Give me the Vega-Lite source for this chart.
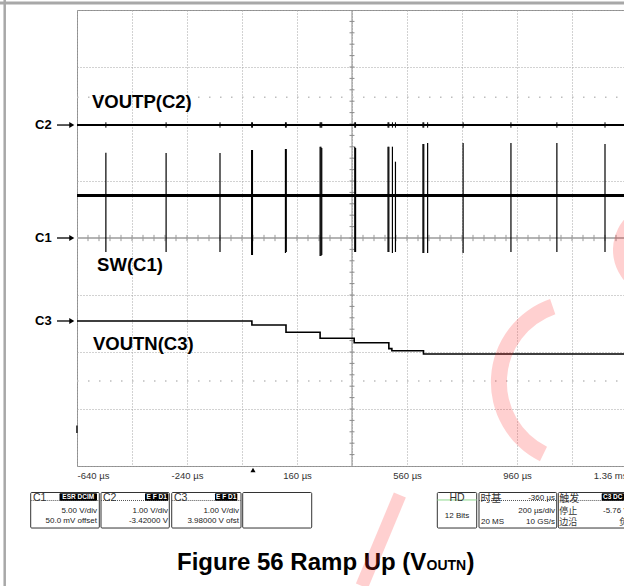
{
  "$schema": "https://vega.github.io/schema/vega-lite/v6.json",
  "width": 550,
  "height": 456,
  "autosize": {"type": "none"},
  "padding": {"left": 77, "top": 10, "right": 0, "bottom": 120},
  "background": "white",
  "config": {
    "view": {"stroke": "#8f8f8f", "strokeWidth": 1},
    "font": "Liberation Sans",
    "axis": {"titleOpacity": 0}
  },
  "data": {"values": [{}]},
  "datasets": {
    "c1": [{"t": -640, "v": 0.746}, {"t": 1360, "v": 0.746}],
    "c2": [{"t": -640, "v": 1.982}, {"t": 1360, "v": 1.982}],
    "c3": [
      {"t": -640, "v": -1.456}, {"t": -4, "v": -1.526}, {"t": 120, "v": -1.654},
      {"t": 244, "v": -1.76}, {"t": 368, "v": -1.837}, {"t": 494, "v": -1.94},
      {"t": 505, "v": -1.977}, {"t": 620, "v": -2.035}, {"t": 1360, "v": -2.03}
    ],
    "sw": [
      {"t": -535, "top": 1.496, "bot": -0.246},
      {"t": -316, "top": 1.49, "bot": -0.246},
      {"t": -120, "top": 1.49, "bot": -0.246},
      {"t": -5, "top": 1.544, "bot": -0.298},
      {"t": -2, "top": 1.544, "bot": -0.298},
      {"t": 118, "top": 1.561, "bot": -0.263},
      {"t": 121, "top": 1.561, "bot": -0.246},
      {"t": 244, "top": 1.602, "bot": -0.316},
      {"t": 247, "top": 1.602, "bot": -0.316},
      {"t": 250, "top": 1.58, "bot": -0.298},
      {"t": 370, "top": 1.602, "bot": -0.246},
      {"t": 373, "top": 1.58, "bot": -0.246},
      {"t": 491, "top": 1.602, "bot": -0.246},
      {"t": 494, "top": 1.602, "bot": -0.246},
      {"t": 507, "top": 1.602, "bot": -0.263},
      {"t": 518, "top": 1.339, "bot": -0.246},
      {"t": 618, "top": 1.649, "bot": -0.263},
      {"t": 621, "top": 1.649, "bot": -0.263},
      {"t": 635, "top": 1.667, "bot": -0.263},
      {"t": 764, "top": 1.667, "bot": -0.263},
      {"t": 938, "top": 1.667, "bot": -0.246},
      {"t": 1105, "top": 1.667, "bot": -0.246},
      {"t": 1280, "top": 1.649, "bot": -0.246}
    ],
    "markers": [{"ch": "C2", "v": 1.982}, {"ch": "C1", "v": 0}, {"ch": "C3", "v": -1.456}],
    "dots": [{"v": 2.47}, {"v": -2.51}],
    "hticks": [
      {"t": -600}, {"t": -560}, {"t": -520}, {"t": -480}, {"t": -440}, {"t": -400}, {"t": -360}, {"t": -320},
      {"t": -280}, {"t": -240}, {"t": -200}, {"t": -160}, {"t": -120}, {"t": -80}, {"t": -40}, {"t": 0},
      {"t": 40}, {"t": 80}, {"t": 120}, {"t": 160}, {"t": 200}, {"t": 240}, {"t": 280}, {"t": 320},
      {"t": 360}, {"t": 400}, {"t": 440}, {"t": 480}, {"t": 520}, {"t": 560}, {"t": 600}, {"t": 640},
      {"t": 680}, {"t": 720}, {"t": 760}, {"t": 800}, {"t": 840}, {"t": 880}, {"t": 920}, {"t": 960},
      {"t": 1000}, {"t": 1040}, {"t": 1080}, {"t": 1120}, {"t": 1160}, {"t": 1200}, {"t": 1240}, {"t": 1280}, {"t": 1320}
    ],
    "vticks": [
      {"v": -3.8}, {"v": -3.6}, {"v": -3.4}, {"v": -3.2}, {"v": -3}, {"v": -2.8}, {"v": -2.6}, {"v": -2.4},
      {"v": -2.2}, {"v": -2}, {"v": -1.8}, {"v": -1.6}, {"v": -1.4}, {"v": -1.2}, {"v": -1}, {"v": -0.8},
      {"v": -0.6}, {"v": -0.4}, {"v": -0.2}, {"v": 0}, {"v": 0.2}, {"v": 0.4}, {"v": 0.6}, {"v": 0.8},
      {"v": 1}, {"v": 1.2}, {"v": 1.4}, {"v": 1.6}, {"v": 1.8}, {"v": 2}, {"v": 2.2}, {"v": 2.4},
      {"v": 2.6}, {"v": 2.8}, {"v": 3}, {"v": 3.2}, {"v": 3.4}, {"v": 3.6}, {"v": 3.8}
    ]
  },
  "layer": [
    {
      "mark": {"type": "rule", "color": "#8a8a8a", "strokeWidth": 1},
      "encoding": {
        "x": {
          "datum": 360, "type": "quantitative",
          "scale": {"domain": [-640, 1360], "nice": false, "zero": false},
          "axis": {
            "values": [-640, -440, -240, -40, 160, 360, 560, 760, 960, 1160, 1360],
            "grid": true, "gridDash": [1, 2], "gridColor": "#a4a4a4", "gridWidth": 1,
            "domain": false, "ticks": false, "labelFlush": true, "labelOverlap": false,
            "labelExpr": "datum.value == 1360 ? '1.36 ms' : ((datum.value + 640) % 400 == 0 ? datum.value + ' µs' : '')",
            "labelFontSize": 9.5, "labelColor": "#333333", "labelPadding": 4, "labelFont": "Liberation Sans",
            "title": null
          }
        }
      }
    },
    {
      "mark": {"type": "rule", "color": "#b4b4b4", "strokeWidth": 2},
      "encoding": {
        "y": {
          "datum": 0, "type": "quantitative",
          "scale": {"domain": [-4, 4], "nice": false, "zero": false},
          "axis": {
            "values": [-4, -3, -2, -1, 0, 1, 2, 3, 4],
            "grid": true, "gridDash": [1, 2], "gridColor": "#a4a4a4", "gridWidth": 1,
            "domain": false, "ticks": false, "labels": false, "title": null
          }
        }
      }
    },
    {
      "data": {"name": "vticks"},
      "mark": {"type": "rule", "color": "#8a8a8a", "strokeWidth": 1},
      "encoding": {
        "y": {"field": "v", "type": "quantitative"},
        "x": {"datum": 351},
        "x2": {"datum": 369}
      }
    },
    {
      "data": {"name": "hticks"},
      "mark": {"type": "rule", "color": "#999999", "strokeWidth": 1},
      "encoding": {
        "x": {"field": "t", "type": "quantitative"},
        "y": {"datum": 0.055},
        "y2": {"datum": -0.055}
      }
    },
    {
      "data": {"name": "dots"},
      "mark": {"type": "rule", "color": "#bdbdbd", "strokeWidth": 1.5, "strokeDash": [1.5, 9.5]},
      "encoding": {
        "y": {"field": "v", "type": "quantitative"},
        "x": {"datum": -640},
        "x2": {"datum": 1360}
      }
    },
    {
      "data": {"name": "c2"},
      "mark": {"type": "line", "color": "#000000", "strokeWidth": 2},
      "encoding": {"x": {"field": "t", "type": "quantitative"}, "y": {"field": "v", "type": "quantitative"}}
    },
    {
      "data": {"name": "sw"},
      "mark": {"type": "rule", "color": "#000000", "strokeWidth": 1},
      "encoding": {"x": {"field": "t", "type": "quantitative"}, "y": {"datum": 2.03}, "y2": {"datum": 1.935}}
    },
    {
      "data": {"name": "c1"},
      "mark": {"type": "line", "color": "#000000", "strokeWidth": 3},
      "encoding": {"x": {"field": "t", "type": "quantitative"}, "y": {"field": "v", "type": "quantitative"}}
    },
    {
      "data": {"name": "sw"},
      "mark": {"type": "rule", "color": "#000000", "strokeWidth": 1.2},
      "encoding": {
        "x": {"field": "t", "type": "quantitative"},
        "y": {"field": "top", "type": "quantitative"},
        "y2": {"field": "bot"}
      }
    },
    {
      "data": {"name": "c3"},
      "mark": {"type": "line", "color": "#000000", "strokeWidth": 1.6, "interpolate": "step-after"},
      "encoding": {"x": {"field": "t", "type": "quantitative"}, "y": {"field": "v", "type": "quantitative"}}
    },
    {
      "mark": {"type": "text", "text": "VOUTP(C2)", "font": "Liberation Sans", "fontWeight": "bold", "fontSize": 18.5, "align": "left", "baseline": "alphabetic", "color": "#000000"},
      "encoding": {"x": {"datum": -585.5}, "y": {"datum": 2.28}}
    },
    {
      "mark": {"type": "text", "text": "SW(C1)", "font": "Liberation Sans", "fontWeight": "bold", "fontSize": 18.5, "align": "left", "baseline": "alphabetic", "color": "#000000"},
      "encoding": {"x": {"datum": -567}, "y": {"datum": -0.58}}
    },
    {
      "mark": {"type": "text", "text": "VOUTN(C3)", "font": "Liberation Sans", "fontWeight": "bold", "fontSize": 18.5, "align": "left", "baseline": "alphabetic", "color": "#000000"},
      "encoding": {"x": {"datum": -582}, "y": {"datum": -1.965}}
    },
    {
      "data": {"name": "markers"},
      "mark": {"type": "text", "font": "Liberation Sans", "fontWeight": "bold", "fontSize": 13, "align": "left", "baseline": "middle", "color": "#000000"},
      "encoding": {"x": {"datum": -792.7}, "y": {"field": "v", "type": "quantitative"}, "text": {"field": "ch"}}
    },
    {
      "data": {"name": "markers"},
      "mark": {"type": "rule", "color": "#000000", "strokeWidth": 1.3},
      "encoding": {"x": {"datum": -712.7}, "x2": {"datum": -664}, "y": {"field": "v", "type": "quantitative"}}
    },
    {
      "data": {"name": "markers"},
      "mark": {"type": "point", "shape": "triangle-right", "filled": true, "color": "#000000", "size": 34, "opacity": 1},
      "encoding": {"x": {"datum": -659}, "y": {"field": "v", "type": "quantitative"}}
    },
    {
      "mark": {"type": "point", "shape": "triangle-up", "filled": true, "color": "#000000", "size": 26, "opacity": 1},
      "encoding": {"x": {"datum": 0}, "y": {"datum": -4.07}}
    },
    {
      "mark": {"type": "rule", "color": "#444444", "strokeWidth": 2},
      "encoding": {"x": {"datum": -640}, "y": {"datum": -3.29}, "y2": {"datum": -3.42}}
    },
    {
      "mark": {"type": "rule", "color": "#a8a8a8", "strokeWidth": 3},
      "encoding": {"x": {"datum": -930}, "x2": {"datum": 1400}, "y": {"datum": 4.123}}
    },
    {
      "mark": {"type": "rule", "color": "#a8a8a8", "strokeWidth": 2.5},
      "encoding": {"x": {"datum": -902.9}, "y": {"datum": 4.2}, "y2": {"datum": -6.2}}
    },
    {
      "mark": {"type": "rect", "fill": "white", "fillOpacity": 0, "stroke": "#333333", "strokeWidth": 1, "cornerRadius": 1},
      "encoding": {"x": {"datum": -808.4}, "x2": {"datum": -558.9}, "y": {"datum": -4.465}, "y2": {"datum": -5.088}}
    },
    {
      "mark": {"type": "rect", "fill": "white", "fillOpacity": 0, "stroke": "#333333", "strokeWidth": 1, "cornerRadius": 1},
      "encoding": {"x": {"datum": -552.7}, "x2": {"datum": -304.4}, "y": {"datum": -4.465}, "y2": {"datum": -5.088}}
    },
    {
      "mark": {"type": "rect", "fill": "white", "fillOpacity": 0, "stroke": "#333333", "strokeWidth": 1, "cornerRadius": 1},
      "encoding": {"x": {"datum": -295.6}, "x2": {"datum": -43.6}, "y": {"datum": -4.465}, "y2": {"datum": -5.088}}
    },
    {
      "mark": {"type": "rect", "fill": "white", "fillOpacity": 0, "stroke": "#333333", "strokeWidth": 1, "cornerRadius": 1},
      "encoding": {"x": {"datum": -37.5}, "x2": {"datum": 213.5}, "y": {"datum": -4.465}, "y2": {"datum": -5.088}}
    },
    {
      "mark": {"type": "rect", "fill": "white", "fillOpacity": 0, "stroke": "#333333", "strokeWidth": 1, "cornerRadius": 1},
      "encoding": {"x": {"datum": 670.2}, "x2": {"datum": 813.5}, "y": {"datum": -4.465}, "y2": {"datum": -5.088}}
    },
    {
      "mark": {"type": "rect", "fill": "white", "fillOpacity": 0, "stroke": "#333333", "strokeWidth": 1, "cornerRadius": 1},
      "encoding": {"x": {"datum": 821.8}, "x2": {"datum": 1104.4}, "y": {"datum": -4.465}, "y2": {"datum": -5.088}}
    },
    {
      "mark": {"type": "rect", "fill": "white", "fillOpacity": 0, "stroke": "#333333", "strokeWidth": 1, "cornerRadius": 1},
      "encoding": {"x": {"datum": 1110.2}, "x2": {"datum": 1420}, "y": {"datum": -4.465}, "y2": {"datum": -5.088}}
    },
    {
      "mark": {"type": "rule", "color": "#555555", "strokeWidth": 1, "strokeDash": [1, 1]},
      "encoding": {"x": {"datum": -808.4}, "x2": {"datum": -558.9}, "y": {"datum": -4.605}}
    },
    {
      "mark": {"type": "rule", "color": "#555555", "strokeWidth": 1, "strokeDash": [1, 1]},
      "encoding": {"x": {"datum": -552.7}, "x2": {"datum": -304.4}, "y": {"datum": -4.605}}
    },
    {
      "mark": {"type": "rule", "color": "#555555", "strokeWidth": 1, "strokeDash": [1, 1]},
      "encoding": {"x": {"datum": -295.6}, "x2": {"datum": -43.6}, "y": {"datum": -4.605}}
    },
    {
      "mark": {"type": "rule", "color": "#555555", "strokeWidth": 1, "strokeDash": [1, 1]},
      "encoding": {"x": {"datum": 821.8}, "x2": {"datum": 1104.4}, "y": {"datum": -4.605}}
    },
    {
      "mark": {"type": "rule", "color": "#555555", "strokeWidth": 1, "strokeDash": [1, 1]},
      "encoding": {"x": {"datum": 1110.2}, "x2": {"datum": 1420}, "y": {"datum": -4.605}}
    },
    {
      "mark": {"type": "rule", "color": "#8fd88f", "strokeWidth": 1},
      "encoding": {"x": {"datum": 670.2}, "x2": {"datum": 813.5}, "y": {"datum": -4.596}}
    },
    {
      "mark": {"type": "rect", "fill": "#000000", "cornerRadius": 1},
      "encoding": {"x": {"datum": -703.6}, "x2": {"datum": -567.3}, "y": {"datum": -4.479}, "y2": {"datum": -4.609}}
    },
    {
      "mark": {"type": "rect", "fill": "#000000", "cornerRadius": 1},
      "encoding": {"x": {"datum": -392.7}, "x2": {"datum": -308}, "y": {"datum": -4.479}, "y2": {"datum": -4.609}}
    },
    {
      "mark": {"type": "rect", "fill": "#000000", "cornerRadius": 1},
      "encoding": {"x": {"datum": -138.2}, "x2": {"datum": -57.1}, "y": {"datum": -4.479}, "y2": {"datum": -4.609}}
    },
    {
      "mark": {"type": "rect", "fill": "#000000", "cornerRadius": 1},
      "encoding": {"x": {"datum": 1268}, "x2": {"datum": 1349}, "y": {"datum": -4.479}, "y2": {"datum": -4.609}}
    },
    {
      "mark": {"type": "text", "text": "ESR DCIM", "fontSize": 6.5, "fontWeight": "bold", "color": "white", "align": "center", "baseline": "middle"},
      "encoding": {"x": {"datum": -635.5}, "y": {"datum": -4.544}}
    },
    {
      "mark": {"type": "text", "text": "E F D1", "fontSize": 6.5, "fontWeight": "bold", "color": "white", "align": "center", "baseline": "middle"},
      "encoding": {"x": {"datum": -350.4}, "y": {"datum": -4.544}}
    },
    {
      "mark": {"type": "text", "text": "E F D1", "fontSize": 6.5, "fontWeight": "bold", "color": "white", "align": "center", "baseline": "middle"},
      "encoding": {"x": {"datum": -97.6}, "y": {"datum": -4.544}}
    },
    {
      "mark": {"type": "text", "text": "C3 DC", "fontSize": 6.5, "fontWeight": "bold", "color": "white", "align": "left", "baseline": "middle"},
      "encoding": {"x": {"datum": 1272.7}, "y": {"datum": -4.544}}
    },
    {
      "mark": {"type": "text", "text": "C1", "fontSize": 10.5, "color": "#333333", "align": "left", "baseline": "alphabetic"},
      "encoding": {"x": {"datum": -800}, "y": {"datum": -4.614}}
    },
    {
      "mark": {"type": "text", "text": "C2", "fontSize": 10.5, "color": "#333333", "align": "left", "baseline": "alphabetic"},
      "encoding": {"x": {"datum": -545.5}, "y": {"datum": -4.614}}
    },
    {
      "mark": {"type": "text", "text": "C3", "fontSize": 10.5, "color": "#333333", "align": "left", "baseline": "alphabetic"},
      "encoding": {"x": {"datum": -287.3}, "y": {"datum": -4.614}}
    },
    {
      "mark": {"type": "text", "text": "5.00 V/div", "fontSize": 8, "color": "#222222", "align": "right", "baseline": "alphabetic"},
      "encoding": {"x": {"datum": -567.3}, "y": {"datum": -4.825}}
    },
    {
      "mark": {"type": "text", "text": "50.0 mV offset", "fontSize": 8, "color": "#222222", "align": "right", "baseline": "alphabetic"},
      "encoding": {"x": {"datum": -567.3}, "y": {"datum": -5.0}}
    },
    {
      "mark": {"type": "text", "text": "1.00 V/div", "fontSize": 8, "color": "#222222", "align": "right", "baseline": "alphabetic"},
      "encoding": {"x": {"datum": -309}, "y": {"datum": -4.825}}
    },
    {
      "mark": {"type": "text", "text": "-3.42000 V", "fontSize": 8, "color": "#222222", "align": "right", "baseline": "alphabetic"},
      "encoding": {"x": {"datum": -309}, "y": {"datum": -5.0}}
    },
    {
      "mark": {"type": "text", "text": "1.00 V/div", "fontSize": 8, "color": "#222222", "align": "right", "baseline": "alphabetic"},
      "encoding": {"x": {"datum": -50.9}, "y": {"datum": -4.825}}
    },
    {
      "mark": {"type": "text", "text": "3.98000 V ofst", "fontSize": 8, "color": "#222222", "align": "right", "baseline": "alphabetic"},
      "encoding": {"x": {"datum": -50.9}, "y": {"datum": -5.0}}
    },
    {
      "mark": {"type": "text", "text": "HD", "fontSize": 10.5, "color": "#333333", "align": "center", "baseline": "alphabetic"},
      "encoding": {"x": {"datum": 741.8}, "y": {"datum": -4.614}}
    },
    {
      "mark": {"type": "text", "text": "12 Bits", "fontSize": 8, "color": "#222222", "align": "center", "baseline": "alphabetic"},
      "encoding": {"x": {"datum": 741.8}, "y": {"datum": -4.912}}
    },
    {
      "mark": {"type": "text", "text": "时基", "font": "Noto Sans CJK SC", "fontSize": 10.5, "color": "#333333", "align": "left", "baseline": "alphabetic"},
      "encoding": {"x": {"datum": 827}, "y": {"datum": -4.632}}
    },
    {
      "mark": {"type": "text", "text": "-360 µs", "fontSize": 8, "color": "#222222", "align": "right", "baseline": "alphabetic"},
      "encoding": {"x": {"datum": 1098.2}, "y": {"datum": -4.596}}
    },
    {
      "mark": {"type": "text", "text": "200 µs/div", "fontSize": 8, "color": "#222222", "align": "right", "baseline": "alphabetic"},
      "encoding": {"x": {"datum": 1098.2}, "y": {"datum": -4.825}}
    },
    {
      "mark": {"type": "text", "text": "20 MS", "fontSize": 8, "color": "#222222", "align": "left", "baseline": "alphabetic"},
      "encoding": {"x": {"datum": 829.1}, "y": {"datum": -5.018}}
    },
    {
      "mark": {"type": "text", "text": "10 GS/s", "fontSize": 8, "color": "#222222", "align": "right", "baseline": "alphabetic"},
      "encoding": {"x": {"datum": 1098.2}, "y": {"datum": -5.018}}
    },
    {
      "mark": {"type": "text", "text": "触发", "font": "Noto Sans CJK SC", "fontSize": 10, "color": "#333333", "align": "left", "baseline": "alphabetic"},
      "encoding": {"x": {"datum": 1114}, "y": {"datum": -4.632}}
    },
    {
      "mark": {"type": "text", "text": "停止", "font": "Noto Sans CJK SC", "fontSize": 9, "color": "#333333", "align": "left", "baseline": "alphabetic"},
      "encoding": {"x": {"datum": 1114}, "y": {"datum": -4.842}}
    },
    {
      "mark": {"type": "text", "text": "边沿", "font": "Noto Sans CJK SC", "fontSize": 9, "color": "#333333", "align": "left", "baseline": "alphabetic"},
      "encoding": {"x": {"datum": 1114}, "y": {"datum": -5.035}}
    },
    {
      "mark": {"type": "text", "text": "-5.76 V", "fontSize": 8, "color": "#222222", "align": "left", "baseline": "alphabetic"},
      "encoding": {"x": {"datum": 1272.7}, "y": {"datum": -4.825}}
    },
    {
      "mark": {"type": "text", "text": "负", "font": "Noto Sans CJK SC", "fontSize": 9, "color": "#333333", "align": "left", "baseline": "alphabetic"},
      "encoding": {"x": {"datum": 1331}, "y": {"datum": -5.035}}
    },
    {
      "mark": {"type": "text", "text": "Figure 56 Ramp Up (V", "fontSize": 24, "fontWeight": "bold", "color": "#000000", "align": "left", "baseline": "alphabetic"},
      "encoding": {"x": {"datum": -276.4}, "y": {"datum": -5.825}}
    },
    {
      "mark": {"type": "text", "text": "OUTN", "fontSize": 14, "fontWeight": "bold", "color": "#000000", "align": "left", "baseline": "alphabetic"},
      "encoding": {"x": {"datum": 630.9}, "y": {"datum": -5.825}}
    },
    {
      "mark": {"type": "text", "text": ")", "fontSize": 24, "fontWeight": "bold", "color": "#000000", "align": "left", "baseline": "alphabetic"},
      "encoding": {"x": {"datum": 776.4}, "y": {"datum": -5.825}}
    },
    {
      "mark": {"type": "arc", "color": "#ff2a2a", "opacity": 0.22, "radius": 88, "radius2": 72, "theta": 3.6, "theta2": 5.95},
      "encoding": {"x": {"datum": 1185}, "y": {"datum": -2.53}}
    },
    {
      "mark": {"type": "arc", "color": "#ff2a2a", "opacity": 0.22, "radius": 47, "radius2": 33, "theta": 3.9, "theta2": 5.6},
      "encoding": {"x": {"datum": 1480}, "y": {"datum": -0.21}}
    },
    {
      "mark": {"type": "rule", "color": "#ff2a2a", "opacity": 0.22, "strokeWidth": 13, "strokeCap": "butt"},
      "encoding": {"x": {"datum": 396}, "x2": {"datum": 534}, "y": {"datum": -6.105}, "y2": {"datum": -4.51}}
    }
  ]
}
